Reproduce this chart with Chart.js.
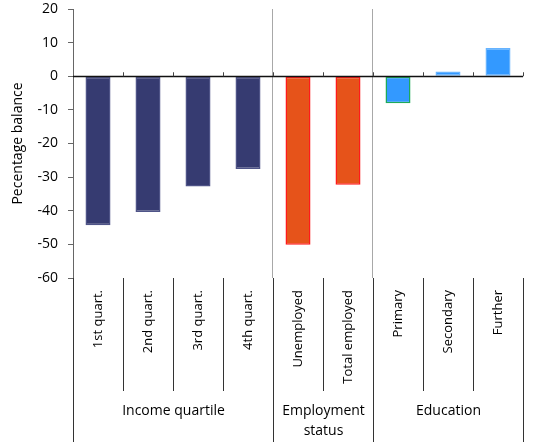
<!DOCTYPE html>
<html><head><meta charset="utf-8">
<script src="https://cdn.jsdelivr.net/npm/chart.js@4/dist/chart.umd.min.js"></script>
<style>html,body{margin:0;padding:0;background:#fff}#wrap{width:538px;height:442px;position:relative}</style>
</head><body><div id="wrap"><canvas id="c"></canvas></div>
<script>
const categories = ['1st quart.','2nd quart.','3rd quart.','4th quart.','Unemployed','Total employed','Primary','Secondary','Further'];
const values = [-44.3,-40.4,-32.8,-27.6,-50.1,-32.3,-8.0,1.4,8.4];
const groupLabels = [['Income quartile'],['Employment','status'],['Education']];
const groupSizes = [4,2,3];
const yTicks = [20,10,0,-10,-20,-30,-40,-50,-60];
const yTitle = 'Pecentage balance';
const fillColors = ['#363B71','#363B71','#363B71','#363B71','#E6531A','#E6531A','#3399FF','#3399FF','#3399FF'];
const borderColors = ['#4f5488','#4f5488','#4f5488','#4f5488','#FF1A1A','#FF1A1A','#1DAA5A','#66B3FF','#66B3FF'];
const FONT = '"Open Sans", sans-serif';

const overlay = {
  id: 'overlay',
  afterDatasetsDraw(chart) {
    const x = chart.scales.x, y = chart.scales.y, ctx = chart.ctx, ca = chart.chartArea;
    const y0 = y.getPixelForValue(0);
    const half = (x.getPixelForValue(1) - x.getPixelForValue(0)) / 2;
    const bound = i => Math.round(x.getPixelForValue(i) - half) + 0.5;
    const groupBounds = [0];
    groupSizes.reduce((a, s) => { groupBounds.push(a + s); return a + s; }, 0);
    ctx.save();
    ctx.strokeStyle = '#a8a8a8'; ctx.lineWidth = 1;
    groupBounds.slice(1, -1).forEach(i => {
      ctx.beginPath(); ctx.moveTo(bound(i) - 1, ca.top); ctx.lineTo(bound(i) - 1, ca.bottom); ctx.stroke();
    });
    ctx.strokeStyle = '#111'; ctx.lineWidth = 1.3;
    ctx.beginPath(); ctx.moveTo(ca.left, Math.round(y0) + 0.5); ctx.lineTo(ca.right, Math.round(y0) + 0.5); ctx.stroke();
    ctx.strokeStyle = '#444'; ctx.lineWidth = 1;
    for (let i = 1; i <= categories.length; i++) {
      ctx.beginPath(); ctx.moveTo(bound(i), y0); ctx.lineTo(bound(i), y0 - 4); ctx.stroke();
    }
    const bottom = chart.height;
    ctx.strokeStyle = '#333'; ctx.lineWidth = 1;
    for (let i = 0; i <= categories.length; i++) {
      const isGroup = groupBounds.includes(i);
      ctx.beginPath();
      ctx.moveTo(bound(i), ca.bottom);
      ctx.lineTo(bound(i), isGroup ? bottom : ca.bottom + 113);
      ctx.stroke();
    }
    ctx.fillStyle = '#000';
    ctx.font = '14px ' + FONT;
    ctx.textAlign = 'center'; ctx.textBaseline = 'middle';
    groupLabels.forEach((lines, g) => {
      const cx = (bound(groupBounds[g]) + bound(groupBounds[g + 1])) / 2;
      lines.forEach((t, k) => ctx.fillText(t, cx, ca.bottom + 133 + k * 20));
    });
    ctx.restore();
  }
};

new Chart(document.getElementById('c'), {
  type: 'bar',
  data: {
    labels: categories,
    datasets: [{
      data: values,
      backgroundColor: fillColors,
      borderColor: borderColors,
      borderWidth: 1.5,
      borderSkipped: false,
      barPercentage: 0.5,
      categoryPercentage: 1.0
    }]
  },
  options: {
    responsive: true,
    maintainAspectRatio: false,
    animation: false,
    devicePixelRatio: 1,
    layout: { padding: { top: 9, right: 15, bottom: 0, left: 0 } },
    plugins: { legend: { display: false }, tooltip: { enabled: false } },
    scales: {
      x: {
        grid: { display: false, drawTicks: false },
        border: { display: false },
        ticks: { color: '#000', font: { family: FONT, size: 13 }, minRotation: 90, maxRotation: 90, padding: 12, autoSkip: false },
        afterFit(s) { s.height = 164; }
      },
      y: {
        min: -60, max: 20,
        afterBuildTicks(s) { s.ticks = yTicks.map(v => ({ value: v })); },
        grid: { drawOnChartArea: false, drawTicks: true, tickLength: 5, color: '#666' },
        border: { display: true, color: '#666', width: 1 },
        ticks: { color: '#000', font: { family: FONT, size: 14 }, padding: 10 },
        title: { display: true, text: yTitle, color: '#000', font: { family: FONT, size: 14 }, padding: { top: 10, bottom: 0 } },
        afterFit(s) { s.width = 73; s.paddingTop = 8; s.paddingBottom = 8; }
      }
    }
  },
  plugins: [overlay]
});
</script>
</body></html>
